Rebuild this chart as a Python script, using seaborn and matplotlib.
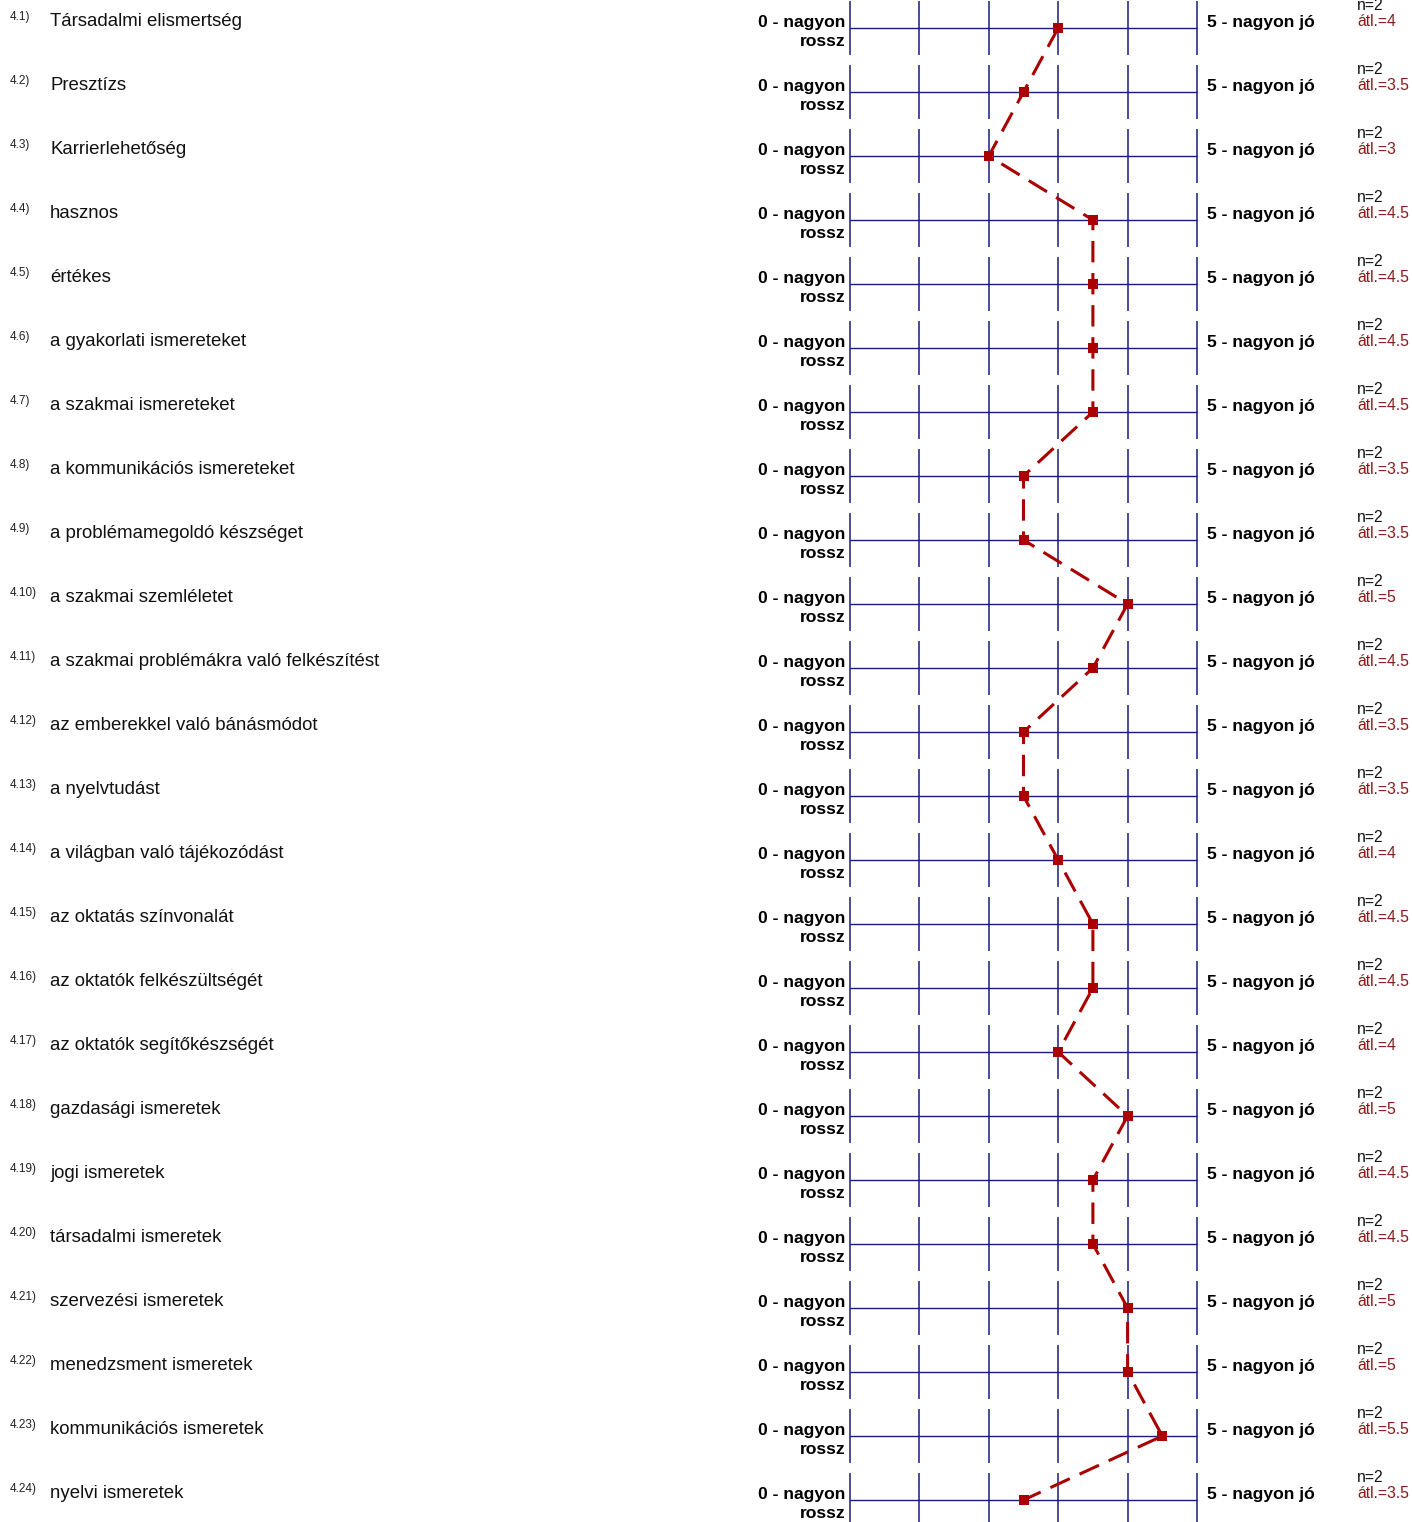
"""
Semantic differential profile: 24 items, mean scores drawn on a 1-6 grid
"""

import numpy as np
import pandas as pd
import matplotlib
matplotlib.use('Agg')
import matplotlib.pyplot as plt
import matplotlib.transforms as mtransforms
import seaborn as sns

# Data
item_numbers = ['4.1)', '4.2)', '4.3)', '4.4)', '4.5)', '4.6)', '4.7)', '4.8)',
                '4.9)', '4.10)', '4.11)', '4.12)', '4.13)', '4.14)', '4.15)', '4.16)',
                '4.17)', '4.18)', '4.19)', '4.20)', '4.21)', '4.22)', '4.23)', '4.24)']
item_labels = ['Társadalmi elismertség', 'Presztízs', 'Karrierlehetőség', 'hasznos',
               'értékes', 'a gyakorlati ismereteket', 'a szakmai ismereteket',
               'a kommunikációs ismereteket', 'a problémamegoldó készséget',
               'a szakmai szemléletet', 'a szakmai problémákra való felkészítést',
               'az emberekkel való bánásmódot', 'a nyelvtudást',
               'a világban való tájékozódást', 'az oktatás színvonalát',
               'az oktatók felkészültségét', 'az oktatók segítőkészségét',
               'gazdasági ismeretek', 'jogi ismeretek', 'társadalmi ismeretek',
               'szervezési ismeretek', 'menedzsment ismeretek',
               'kommunikációs ismeretek', 'nyelvi ismeretek']
means = [4, 3.5, 3, 4.5, 4.5, 4.5, 4.5, 3.5, 3.5, 5, 4.5, 3.5,
         3.5, 4, 4.5, 4.5, 4, 5, 4.5, 4.5, 5, 5, 5.5, 3.5]
counts = [2] * 24
left_label = ['0 - nagyon', 'rossz']
right_label = '5 - nagyon jó'
scale_ticks = [1, 2, 3, 4, 5, 6]

W, H = 1412, 1522
ROW0, ROW_STEP = 28, 64
GRID_LEFT, GRID_RIGHT = 850, 1197

NAVY = '#1a1a7e'
RED = '#aa0000'
DARKRED = '#8c1a1a'

sns.set_theme(style='white')
plt.rcParams['font.family'] = ['Liberation Sans', 'DejaVu Sans']

fig = plt.figure(figsize=(W / 100, H / 100), dpi=100)
ax = fig.add_axes([GRID_LEFT / W, 0, (GRID_RIGHT - GRID_LEFT) / W, 1])
ax.set_axis_off()

n_rows = len(means)
rows = np.arange(n_rows)
ax.set_xlim(scale_ticks[0], scale_ticks[-1])
ax.set_ylim((H - ROW0) / ROW_STEP, -ROW0 / ROW_STEP)

# grid: horizontal line per item, vertical ticks per item
ax.hlines(rows, scale_ticks[0], scale_ticks[-1], color=NAVY, lw=1.0, clip_on=False)
half = 27 / ROW_STEP
for t in scale_ticks:
    ax.vlines(np.full(n_rows, t), rows - half, rows + half, color=NAVY, lw=1.1,
              clip_on=False)

df = pd.DataFrame({'row': rows, 'mean': means})
sns.lineplot(data=df, x='mean', y='row', orient='y', sort=False, ax=ax,
             color=RED, linestyle=(0, (7, 3.5)), lw=2.2, marker='s', markersize=7,
             markeredgewidth=0, clip_on=False, zorder=5)
ax.set_xlabel('')
ax.set_ylabel('')

# text columns: x in figure pixels, y in data rows
trans = mtransforms.blended_transform_factory(fig.transFigure, ax.transData)
px = lambda v: v / W
dy = lambda p: p / ROW_STEP

for i in rows:
    ax.text(px(10), i - dy(11), item_numbers[i], transform=trans, fontsize=8.5,
            ha='left', va='center', color='#222222')
    ax.text(px(50), i - dy(6), item_labels[i], transform=trans, fontsize=13.4,
            ha='left', va='center', color='#111111')
    ax.text(px(845), i - dy(5), left_label[0], transform=trans, fontsize=12.6,
            fontweight='bold', ha='right', va='center', color='black')
    ax.text(px(845), i + dy(14), left_label[1], transform=trans, fontsize=12.6,
            fontweight='bold', ha='right', va='center', color='black')
    ax.text(px(1207), i - dy(5), right_label, transform=trans, fontsize=12.6,
            fontweight='bold', ha='left', va='center', color='black')
    ax.text(px(1357), i - dy(22), f'n={counts[i]}', transform=trans, fontsize=11.3,
            ha='left', va='center', color='#111111')
    ax.text(px(1357), i - dy(7), f'átl.={means[i]:g}', transform=trans,
            fontsize=11.3, ha='left', va='center', color=DARKRED)

fig.savefig('out.png', dpi=100)
plt.close(fig)
